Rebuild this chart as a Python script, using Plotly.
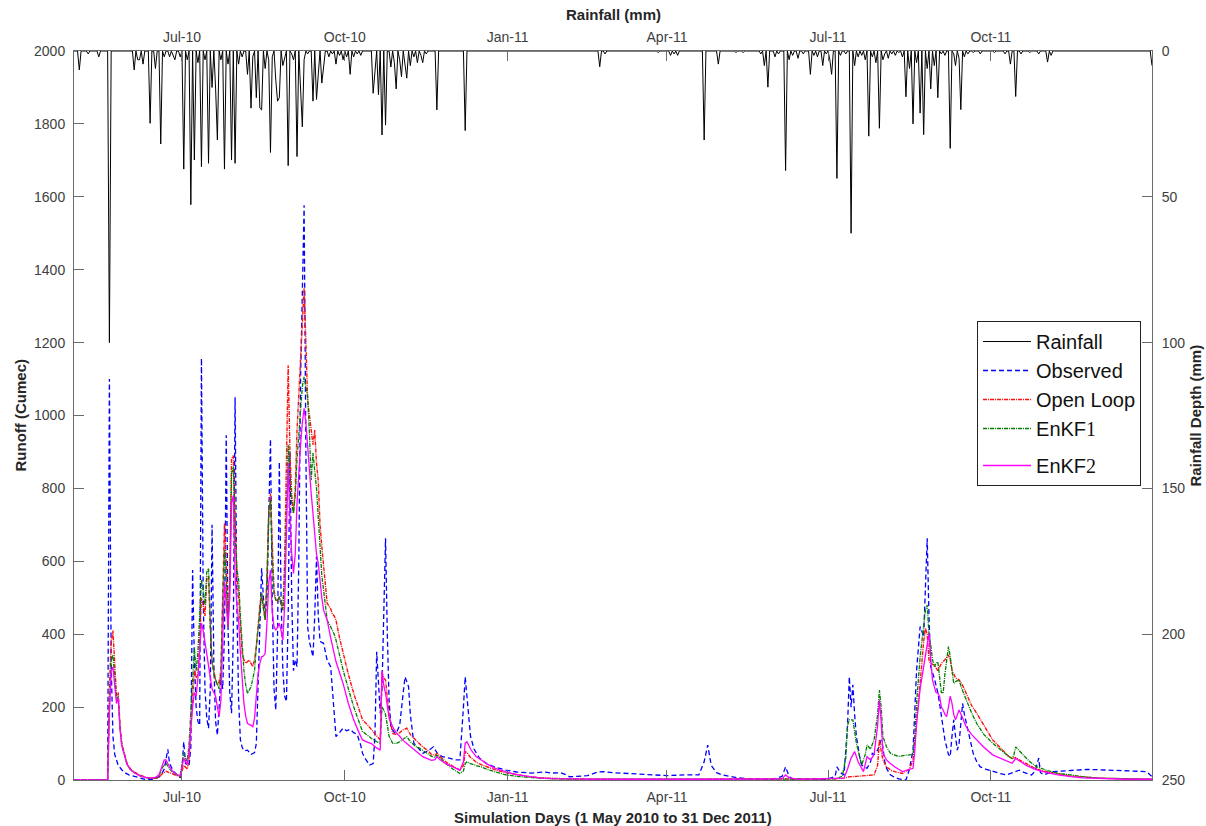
import numpy as np
import pandas as pd
import plotly.graph_objects as go

START = pd.Timestamp("2010-05-01")
N_DAYS = 610  # 1 May 2010 .. 31 Dec 2011

# ---------------- data (day index since 1 May 2010, value) ----------------
rainfall = [(3,6.5),(8,1),(14,2),(20,100),(34,6.5),(36,3),(37,3),(39,4.5),(43,24.8),(46,6),(49,31.9),
    (51,2),(54,2),(56,1.5),(57,3),(60,2),(62,40.5),(64,3),(66,52.7),(68,37.4),(70,4),(72,39.7),(74,3),
    (76,38.5),(78,12.5),(80,13),(81,30.5),(83,3),(85,40.5),(87,4.5),(89,37.4),(91,38.5),(93,4.5),(95,2),
    (98,8),(100,19.6),(101,2),(103,16),(105,19.6),(106,20.2),(108,6),(110,3),(111,34.8),(112,2),(114,10),
    (115,17.2),(116,16),(118,5),(119,2),(121,39.3),(123,1),(124,3),(126,36.2),(128,15),(129,26),(130,3),
    (132,1),(135,17.2),(137,16.6),(138,8),(140,11),(141,5.5),(144,2),(146,1),(148,4.5),(150,1.5),(152,3),
    (154,2),(156,8),(158,2),(160,1),(162,1.5),(169,14.5),(170,8),(172,15),(174,28.8),(176,25.4),(179,5.5),
    (181,4),(182,13),(184,3),(185,8.8),(187,4),(188,9.3),(190,5),(192,2),(194,4),(196,1.5),(197,4),(199,1),
    (205,20.2),(221,27.3),(297,5.4),(300,1),(330,0.5),(337,1.5),(339,1),(341,1.5),(356,30.5),(364,4.5),
    (374,0.5),(378,0.5),(388,1),(390,5),(392,12.4),(396,2),(398,1),(402,41),(404,3),(406,1.5),(409,2.5),
    (412,1),(416,8),(418,1.5),(420,2),(423,5),(425,1),(427,3),(428,8),(431,43.7),(433,1.5),(436,1),
    (439,62.5),(441,5),(443,2),(445,1.5),(447,3),(449,29.2),(451,2),(453,4),(455,26.5),(457,3),(458,1),
    (460,2.5),(462,1),(464,1.5),(466,0.5),(468,2),(470,15.7),(472,6),(474,25),(476,4),(478,21.3),(480,28.7),
    (482,6),(484,13),(486,5),(488,16),(490,1),(492,1.5),(495,33.4),(497,1),(498,5),(500,2.5),(501,20.1),
    (503,2),(505,1),(508,0.5),(512,1),(520,0.5),(526,1),(529,4.5),(532,15.6),(535,1),(540,0.5),(545,1),
    (550,3.8),(552,1.5),(609,5)]

observed = [(0,0),(19,0),(20,1100),(21,320),(22,120),(23,70),(25,40),(28,22),(31,14),(34,10),(37,5),(40,2),
    (44,2),(47,6),(49,12),(51,30),(53,84),(54,45),(56,25),(58,14),(60,6),(61,30),(62,105),(63,45),(65,40),
    (66,90),(67,576),(68,330),(69,200),(70,160),(71,150),(72,1157),(73,500),(74,250),(75,170),(76,142),
    (77,250),(78,700),(79,320),(80,160),(81,123),(82,200),(83,283),(84,250),(85,400),(86,946),(87,420),
    (88,240),(89,183),(90,400),(91,1050),(92,480),(93,220),(94,110),(95,90),(96,80),(98,82),(100,70),
    (102,75),(103,100),(104,250),(105,393),(106,581),(107,500),(108,448),(109,500),(110,700),(111,935),
    (112,500),(113,250),(114,192),(115,400),(116,873),(117,500),(118,300),(119,230),(120,215),(121,450),
    (122,900),(123,500),(124,300),(125,330),(126,311),(127,600),(128,1100),(129,1300),(130,1577),(131,900),
    (132,420),(133,380),(134,360),(135,338),(136,450),(137,613),(138,450),(139,380),(141,375),(143,329),
    (145,311),(146,250),(147,170),(148,119),(150,130),(152,142),(154,135),(156,139),(158,130),(160,125),
    (162,95),(163,73),(165,55),(167,41),(169,45),(170,120),(171,352),(172,250),(173,183),(174,250),(175,450),
    (176,663),(177,400),(178,220),(179,146),(181,130),(182,128),(184,150),(186,240),(187,283),(188,270),
    (189,256),(190,180),(192,101),(195,85),(197,73),(200,80),(203,91),(205,75),(208,64),(212,60),(216,55),
    (218,55),(219,120),(220,200),(221,283),(222,230),(224,120),(226,85),(229,60),(233,45),(238,35),(244,27),
    (250,22),(258,19),(262,20),(266,22),(270,19),(275,20),(278,14),(280,9),(284,10),(290,12),(296,22),
    (299,23),(305,20),(315,18),(325,16),(335,12),(345,14),(353,14),(356,50),(358,96),(360,40),(363,20),
    (366,14),(370,10),(375,6),(383,2),(395,2),(400,10),(402,36),(404,10),(406,2),(415,1),(425,1),(430,10),
    (431,36),(433,20),(435,14),(437,150),(438,283),(439,200),(440,261),(441,180),(442,119),(444,60),(445,41),
    (447,35),(448,32),(450,50),(451,73),(452,70),(454,82),(456,110),(457,90),(458,50),(459,32),(461,15),
    (463,9),(466,3),(470,0),(472,30),(474,82),(476,300),(478,421),(480,393),(481,550),(482,663),(483,450),
    (484,311),(486,279),(488,240),(489,210),(491,150),(492,110),(494,70),(495,64),(496,120),(497,165),
    (498,120),(499,82),(500,100),(502,210),(503,180),(505,137),(507,90),(508,73),(510,50),(512,36),(515,30),
    (519,23),(523,18),(527,14),(531,22),(534,27),(537,20),(541,14),(543,25),(545,60),(546,20),(548,14),
    (553,23),(560,25),(566,28),(572,29),(580,28),(591,26),(600,25),(606,23),(609,9)]

open_loop = [(0,0),(19,0),(20,250),(21,380),(22,410),(23,320),(24,230),(25,240),(26,150),(27,100),(28,80),
    (30,45),(32,30),(34,22),(37,14),(40,8),(43,5),(46,5),(48,8),(50,18),(52,24),(54,20),(56,15),(58,12),
    (60,10),(61,25),(62,40),(63,35),(64,30),(65,60),(66,150),(67,250),(68,302),(69,280),(70,290),(71,380),
    (72,500),(73,480),(74,450),(75,550),(76,560),(77,420),(78,320),(79,300),(80,274),(81,260),(82,270),
    (83,300),(84,500),(85,704),(86,600),(87,421),(88,550),(89,880),(90,890),(91,700),(92,560),(93,503),
    (94,420),(95,347),(96,330),(97,320),(99,329),(100,320),(101,311),(102,330),(103,366),(104,420),
    (105,480),(106,512),(107,470),(108,439),(109,550),(110,720),(111,786),(112,620),(113,520),(114,494),
    (115,490),(116,503),(117,480),(118,466),(119,600),(120,900),(121,1138),(122,900),(123,780),(124,732),
    (125,800),(126,960),(127,1050),(128,1150),(129,1250),(130,1350),(131,1200),(132,1040),(133,1000),
    (134,960),(135,920),(136,960),(137,869),(138,820),(139,700),(140,640),(141,594),(142,540),(143,485),
    (145,470),(146,455),(147,450),(148,439),(150,390),(152,347),(155,290),(158,238),(161,195),(163,165),
    (166,150),(168,139),(171,120),(173,110),(174,295),(175,280),(176,274),(177,230),(178,180),(180,128),
    (182,125),(184,130),(186,138),(188,142),(190,125),(193,110),(195,100),(197,91),(200,80),(202,70),
    (204,68),(205,73),(207,64),(210,50),(214,38),(218,27),(220,40),(221,78),(222,75),(224,62),(227,50),
    (230,42),(234,35),(238,28),(244,20),(250,14),(256,10),(263,6),(270,4),(280,3),(300,2),(350,2),(400,2),
    (403,4),(406,2),(430,3),(435,5),(438,9),(442,10),(448,12),(452,14),(454,40),(455,110),(456,80),
    (457,55),(459,36),(462,25),(468,18),(472,30),(474,55),(476,155),(478,265),(480,380),(481,416),
    (482,400),(483,329),(484,320),(486,315),(488,300),(490,320),(492,330),(494,343),(495,330),(496,302),
    (498,280),(500,275),(502,260),(504,238),(507,205),(510,183),(514,150),(519,110),(524,85),(528,65),
    (530,59),(532,62),(534,55),(538,45),(543,32),(548,24),(555,17),(563,11),(570,8),(580,5),(595,3),(609,2)]

enkf1 = [(0,0),(19,0),(20,200),(21,330),(22,343),(23,280),(24,220),(25,230),(26,140),(27,95),(28,75),
    (30,42),(32,28),(34,20),(37,12),(40,7),(43,5),(46,6),(48,12),(50,35),(52,46),(54,30),(56,20),(58,14),
    (60,11),(61,40),(62,75),(63,60),(64,50),(65,100),(66,200),(67,300),(68,361),(69,300),(70,350),(71,450),
    (72,549),(73,520),(74,480),(75,570),(76,581),(77,420),(78,330),(79,290),(80,274),(81,262),(82,250),
    (83,290),(84,480),(85,631),(86,540),(87,421),(88,540),(89,840),(90,860),(91,680),(92,580),(93,549),
    (94,450),(95,357),(96,300),(97,260),(98,238),(100,255),(101,274),(102,300),(103,366),(104,420),
    (105,470),(106,512),(107,470),(108,439),(109,550),(110,740),(111,768),(112,600),(113,510),(114,494),
    (115,490),(116,503),(117,480),(118,466),(119,560),(120,780),(121,920),(122,820),(123,760),(124,732),
    (125,780),(126,880),(127,950),(128,1020),(129,1080),(130,1106),(131,1080),(132,1052),(133,950),
    (134,823),(135,897),(136,850),(137,800),(138,720),(139,620),(140,560),(141,521),(142,480),(143,439),
    (145,420),(147,400),(148,384),(150,340),(152,302),(155,250),(158,201),(161,160),(163,133),(166,122),
    (168,114),(171,105),(173,101),(174,200),(175,192),(176,180),(177,150),(178,120),(180,101),(182,100),
    (184,105),(186,112),(188,119),(190,105),(193,92),(195,88),(197,82),(200,72),(202,65),(204,62),(205,68),
    (207,60),(210,45),(214,30),(218,18),(220,25),(221,45),(222,50),(224,45),(227,40),(230,36),(234,28),
    (238,22),(244,14),(250,10),(256,7),(263,5),(270,3),(280,2),(300,2),(350,2),(400,2),(430,3),(434,10),
    (436,60),(437,150),(438,165),(440,165),(442,101),(444,60),(445,41),(447,70),(448,96),(450,85),(452,110),
    (454,180),(455,247),(456,200),(457,120),(459,91),(461,75),(463,69),(466,65),(470,68),(474,70),(475,120),
    (476,210),(478,338),(480,420),(481,466),(482,480),(483,400),(484,370),(485,330),(486,311),(487,320),
    (488,324),(489,280),(490,240),(491,238),(492,290),(494,366),(495,340),(496,300),(497,265),(498,270),
    (500,274),(502,245),(504,219),(507,185),(510,155),(514,125),(519,101),(524,80),(528,65),(530,59),
    (531,70),(532,91),(533,85),(536,70),(540,50),(544,36),(550,26),(556,18),(563,14),(570,9),(580,5),
    (595,3),(609,2)]

enkf2 = [(0,0),(19,0),(20,180),(21,300),(22,310),(23,260),(24,210),(25,225),(26,140),(27,95),(28,75),
    (30,42),(32,28),(34,20),(37,12),(40,7),(43,5),(46,7),(48,14),(50,45),(51,55),(52,55),(54,35),(56,22),
    (58,15),(60,12),(61,35),(62,60),(63,50),(64,45),(65,80),(66,150),(67,200),(68,240),(69,230),(70,280),
    (71,350),(72,430),(73,410),(74,380),(75,340),(76,320),(77,280),(78,250),(79,240),(80,230),(81,200),
    (82,174),(83,220),(84,420),(85,544),(86,480),(87,421),(88,500),(89,760),(90,780),(91,560),(92,480),
    (93,439),(94,350),(95,265),(96,210),(97,175),(98,155),(100,150),(101,146),(102,170),(103,238),
    (104,290),(105,320),(106,338),(107,340),(108,347),(109,430),(110,540),(111,576),(112,460),(113,420),
    (114,411),(115,420),(116,430),(117,410),(118,384),(119,480),(120,700),(121,870),(122,720),(123,620),
    (124,567),(125,620),(126,760),(127,850),(128,920),(129,980),(130,1020),(131,980),(132,905),(133,840),
    (134,786),(135,732),(136,680),(137,620),(138,594),(139,540),(140,500),(141,466),(142,450),(143,439),
    (145,390),(147,350),(148,325),(150,295),(152,265),(155,210),(158,165),(161,130),(163,110),(166,103),
    (168,100),(171,88),(173,82),(174,300),(175,260),(176,238),(177,200),(178,170),(180,146),(182,130),
    (184,120),(186,108),(188,100),(190,92),(193,80),(195,72),(197,64),(200,58),(202,54),(204,56),(205,64),
    (207,55),(210,45),(214,36),(218,27),(220,50),(221,101),(222,105),(224,85),(227,65),(230,55),(234,42),
    (238,32),(244,22),(250,15),(256,10),(263,6),(270,4),(280,3),(300,2),(350,2),(400,3),(402,14),(404,6),
    (410,2),(430,3),(435,5),(437,30),(439,60),(441,78),(443,50),(445,32),(446,23),(448,64),(450,55),
    (452,70),(454,150),(455,219),(456,160),(457,73),(459,55),(461,46),(464,35),(468,23),(472,28),(474,32),
    (475,80),(476,155),(478,250),(480,311),(482,380),(483,402),(484,330),(485,274),(486,256),(487,240),
    (488,238),(489,229),(490,200),(491,192),(492,180),(493,174),(494,200),(495,230),(496,210),(497,180),
    (498,165),(500,192),(502,170),(504,146),(507,125),(510,110),(514,90),(519,69),(524,58),(528,50),
    (530,46),(532,59),(534,52),(538,40),(543,29),(548,22),(555,15),(563,9),(570,6),(580,4),(595,2),(609,2)]

tick_dates = ["2010-07-01", "2010-10-01", "2011-01-01", "2011-04-01", "2011-07-01", "2011-10-01"]
tick_labels = ["Jul-10", "Oct-10", "Jan-11", "Apr-11", "Jul-11", "Oct-11"]
runoff_ticks = list(range(0, 2001, 200))
rain_ticks = list(range(0, 251, 50))

# ---------------- build ----------------
def to_dates(days):
    return START + pd.to_timedelta(np.asarray(days, dtype=float), unit="D")

rain_daily = np.zeros(N_DAYS)
for d, v in rainfall:
    rain_daily[d] = v
rain_dates = to_dates(np.arange(N_DAYS))

def series(pairs):
    d, v = zip(*pairs)
    return to_dates(d), list(v)

FONT = "Arial, 'Liberation Sans', Helvetica, sans-serif"
TICKC = "#404040"
AXC = "#6a6a6a"
TITLEC = "#262626"
TSIZE = 14
SERIF = "font-family:Liberation Serif, Times New Roman, serif"

fig = go.Figure()
fig.add_trace(go.Scatter(x=rain_dates, y=rain_daily, xaxis="x2", yaxis="y2", mode="lines",
                         name="Rainfall", line=dict(color="black", width=1), legendgroup="g1"))
ox, oy = series(observed)
fig.add_trace(go.Scatter(x=ox, y=oy, mode="lines", name="Observed", legendgroup="g1",
                         line=dict(color="#0000FF", width=1.3, dash="5px,3px")))
rx, ry = series(open_loop)
fig.add_trace(go.Scatter(x=rx, y=ry, mode="lines", name="Open Loop", legendgroup="g1",
                         line=dict(color="#FF1010", width=1.4, dash="4px,1px,1px,1px")))
gx, gy = series(enkf1)
fig.add_trace(go.Scatter(x=gx, y=gy, mode="lines", legendgroup="g1",
                         name=f"EnKF<span style='{SERIF}'>1</span>",
                         line=dict(color="#007F00", width=1.3, dash="4px,1px,1px,1px")))
mx, my = series(enkf2)
fig.add_trace(go.Scatter(x=mx, y=my, mode="lines", legendgroup="g2",
                         name=f"EnKF<span style='{SERIF}'>2</span>",
                         line=dict(color="#FF00FF", width=1.3)))

x_range = [START, START + pd.Timedelta(days=N_DAYS - 1)]
common_x = dict(range=x_range, tickvals=tick_dates, ticktext=tick_labels, ticks="inside", ticklen=10,
                tickcolor=AXC, showline=True, linecolor=AXC, linewidth=1, showgrid=False, zeroline=False,
                tickfont=dict(family=FONT, size=TSIZE, color=TICKC))
fig.update_layout(
    width=1206, height=826,
    margin=dict(l=74, r=54, t=51, b=46, autoexpand=False),
    paper_bgcolor="white", plot_bgcolor="white",
    font=dict(family=FONT, size=14, color=TICKC),
    showlegend=True,
    xaxis=dict(**common_x, side="bottom", ticklabelstandoff=4),
    xaxis2=dict(**common_x, side="top", overlaying="x", anchor="y2", ticklabelstandoff=2),
    yaxis=dict(range=[0, 2000], tickvals=runoff_ticks, ticks="inside", ticklen=10, tickcolor=AXC,
               showline=True, linecolor=AXC, linewidth=1, showgrid=False, zeroline=False,
               ticklabelstandoff=5, tickfont=dict(family=FONT, size=TSIZE, color=TICKC)),
    yaxis2=dict(range=[250, 0], tickvals=rain_ticks, ticks="inside", ticklen=10, tickcolor=AXC,
                showline=True, linecolor=AXC, linewidth=1, showgrid=False, zeroline=False,
                side="right", overlaying="y", anchor="x2", ticklabelstandoff=6,
                tickfont=dict(family=FONT, size=TSIZE, color=TICKC)),
    legend=dict(x=0.8377, y=0.6296, xanchor="left", yanchor="top", bgcolor="white",
                bordercolor="#222222", borderwidth=1, tracegroupgap=8, itemwidth=48,
                font=dict(family=FONT, size=20, color="#111111"), traceorder="grouped"),
)

annots = [
    dict(text="<b>Rainfall (mm)</b>", x=0.5, xref="paper", y=1, yref="paper", yshift=37, textangle=0),
    dict(text="<b>Simulation Days (1 May 2010 to 31 Dec 2011)</b>", x=0.5, xref="paper", y=0,
         yref="paper", yshift=-37, textangle=0),
    dict(text="<b>Runoff (Cumec)</b>", x=0, xref="paper", xshift=-54, y=0.5, yref="paper", textangle=-90),
    dict(text="<b>Rainfall Depth (mm)</b>", x=1, xref="paper", xshift=43, y=0.5, yref="paper", textangle=-90),
]
for a in annots:
    fig.add_annotation(**a, showarrow=False, xanchor="center", yanchor="middle",
                       font=dict(family=FONT, size=15, color=TITLEC))

fig.write_html("out.html", config={"displayModeBar": False},
               post_script="document.body.style.margin='0';document.body.style.overflow='hidden';")
